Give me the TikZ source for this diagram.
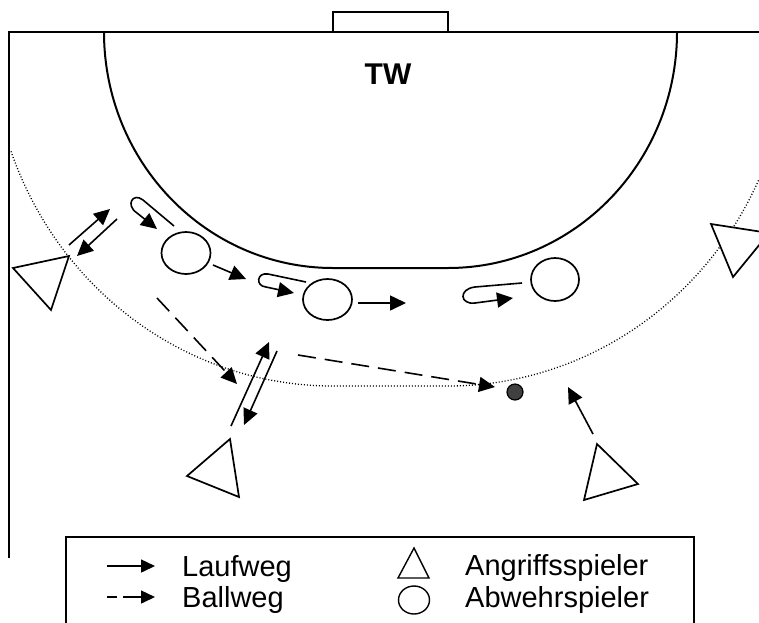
\documentclass[tikz,border=0pt]{standalone}
\usepackage{fontspec}
\setmainfont{Liberation Sans}
\usetikzlibrary{arrows.meta}
\begin{document}
\begin{tikzpicture}[x=1pt,y=1pt,
  court/.style={line width=2pt},
  player/.style={line width=1.7pt, fill=white},
  run/.style={line width=1.6pt, -{Triangle[length=16pt,width=15pt]}},
  pass/.style={run, dash pattern=on 18pt off 9pt},
  legrun/.style={line width=1.5pt, -{Triangle[length=14pt,width=13pt]}},
  nine/.style={line width=1.3pt, dash pattern=on 1pt off 2pt},
  legtext/.style={anchor=base west, inner sep=0pt, font=\fontsize{29}{32}\selectfont}]
\useasboundingbox (0,0) rectangle (759,-622);
\clip (0,0) rectangle (759,-622);
% court
\draw[court] (9,-558) -- (9,-32) -- (759,-32);
\draw[court] (333,-32) -- (333,-12) -- (448,-12) -- (448,-32);
\draw[court] (104,-32) arc[start angle=180,end angle=270,x radius=229,y radius=236]
  -- (448,-268) arc[start angle=270,end angle=360,x radius=229,y radius=236];
\draw[nine] (333,-32) ++(199.7:342 and 354) arc[start angle=199.7,end angle=270,x radius=342,y radius=354]
  -- (448,-386) arc[start angle=270,end angle=335.4,x radius=342,y radius=354];
\node[font=\bfseries\fontsize{30}{32}\selectfont] (tw) at (388,-74) {TW};
% attackers
\draw[player] (13,-268) -- (69,-256) -- (51,-310) -- cycle;
\draw[player] (711,-224) -- (733,-277) -- (769,-233) -- cycle;
\draw[player] (187,-476) -- (230,-439) -- (239,-497) -- cycle;
\draw[player] (597,-444) -- (638,-484) -- (584,-500) -- cycle;
% defenders
\draw[player] (186,-253) ellipse[x radius=24.5,y radius=21];
\draw[player] (327.5,-299.5) ellipse[x radius=24.5,y radius=20.5];
\draw[player] (555,-279.5) ellipse[x radius=24,y radius=21.5];
% ball
\draw[line width=1.2pt, fill=black!75] (515,-392) circle[radius=8];
% run paths
\coordinate (a1) at (69,-245); \coordinate (a2) at (110,-209);
\coordinate (b1) at (117,-219); \coordinate (b2) at (77,-256);
\draw[run] (a1) -- (a2);
\draw[run] (b1) -- (b2);
\draw[run] (174,-226) -- (143,-200) .. controls (133,-192) and (125,-205) .. (137,-213) -- (157,-229);
\draw[run] (213,-265) -- (246,-279);
\draw[run] (306,-282) -- (268,-274) .. controls (257,-272) and (255,-286) .. (266,-287) -- (294,-293);
\draw[run] (358,-303) -- (406,-303);
\draw[run] (522,-283) -- (475,-287) .. controls (458,-289) and (460,-305) .. (475,-303) -- (513,-298);
\coordinate (c1) at (231,-426); \coordinate (c2) at (269,-342);
\coordinate (d1) at (277,-351); \coordinate (d2) at (244,-425);
\draw[run] (c1) -- (c2);
\draw[run] (d1) -- (d2);
\draw[run] (593,-434) -- (568,-387);
% passes
\draw[pass] (157,-298) -- (237,-384);
\draw[pass] (298,-355) -- (495,-387);
% legend
\draw[line width=1.6pt] (66,-537) rectangle (694,-640);
\draw[legrun] (107,-566) -- (155,-566);
\draw[line width=1.5pt] (107,-597) -- (117,-597);
\draw[legrun] (123,-597) -- (155,-597);
\node[legtext] (l1) at (182,-576) {Laufweg};
\node[legtext] (l2) at (182,-607) {Ballweg};
\draw[line width=1.4pt] (398,-578) -- (429,-578) -- (414,-548) -- cycle;
\draw[line width=1.4pt] (414,-600) ellipse[x radius=15.5,y radius=14];
\node[legtext] (l3) at (465,-575) {Angriffsspieler};
\node[legtext] (l4) at (465,-607) {Abwehrspieler};
\end{tikzpicture}
\end{document}
